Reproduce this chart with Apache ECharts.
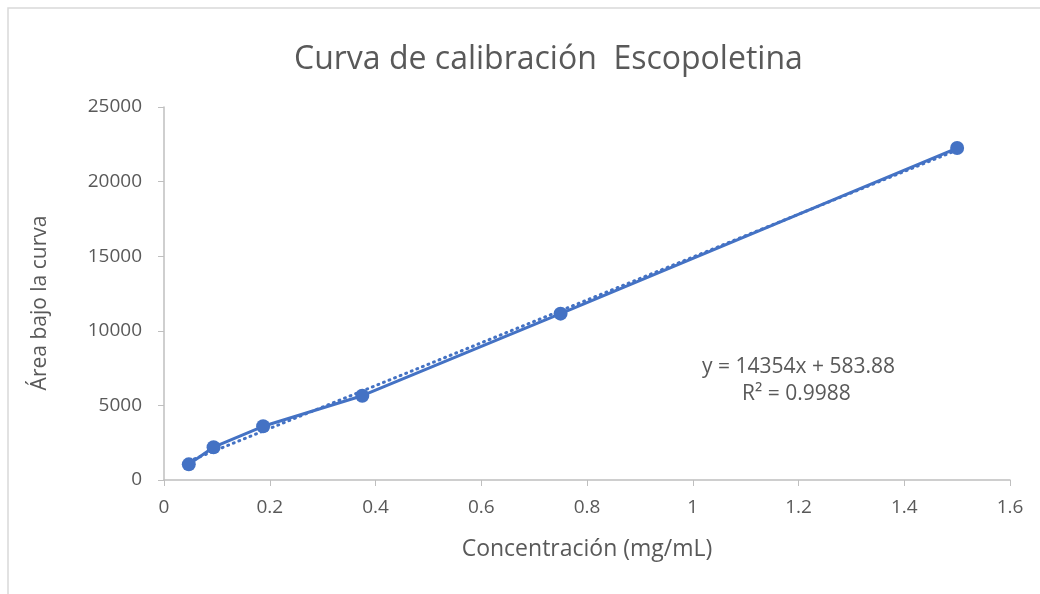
<!DOCTYPE html>
<html>
<head>
<meta charset="utf-8">
<script src="https://cdn.jsdelivr.net/npm/echarts@6/dist/echarts.min.js"></script>
<style>
  html, body { margin: 0; padding: 0; background: #fff; }
  #chart { width: 1040px; height: 594px; }
</style>
</head>
<body>
<div id="chart"></div>
<script>
// Calibration standards: concentration (mg/mL) and peak area
const concentrations = [0.046875, 0.09375, 0.1875, 0.375, 0.75, 1.5];
const areas = [1050, 2200, 3600, 5650, 11150, 22250];

// Linear fit reported for the standards
const slope = 14354;
const intercept = 583.88;
const rSquared = 0.9988;

const xTicks = [0, 0.2, 0.4, 0.6, 0.8, 1, 1.2, 1.4, 1.6];
const yTicks = [0, 5000, 10000, 15000, 20000, 25000];

const blue = '#4472c4';
const textColor = '#595959';
const font = '"Open Sans", "Liberation Sans", sans-serif';

const measured = concentrations.map((c, i) => [c, areas[i]]);
const xMin = Math.min(...concentrations);
const xMax = Math.max(...concentrations);
const trend = [[xMin, slope * xMin + intercept], [xMax, slope * xMax + intercept]];

const chart = echarts.init(document.getElementById('chart'), null, { renderer: 'canvas' });
chart.setOption({
  animation: false,
  backgroundColor: '#fff',
  textStyle: { fontFamily: font },
  title: {
    text: 'Curva de calibración  Escopoletina',
    left: 289,
    top: 39,
    textStyle: { fontFamily: font, fontSize: 32, fontWeight: 'normal', color: textColor }
  },
  grid: { left: 164, right: 30, top: 107, bottom: 114 },
  xAxis: {
    type: 'value',
    min: xTicks[0],
    max: xTicks[xTicks.length - 1],
    interval: 0.2,
    name: 'Concentración (mg/mL)',
    nameLocation: 'middle',
    nameGap: 58,
    nameTextStyle: { fontFamily: font, fontSize: 23, color: textColor },
    axisLine: { lineStyle: { color: '#bfbfbf', width: 1.5 } },
    axisTick: { show: true, length: 6, lineStyle: { color: '#bfbfbf' } },
    axisLabel: {
      fontFamily: font, fontSize: 19, color: textColor, margin: 18,
      formatter: v => String(Math.round(v * 10) / 10)
    },
    splitLine: { show: false }
  },
  yAxis: {
    type: 'value',
    min: yTicks[0],
    max: yTicks[yTicks.length - 1],
    interval: 5000,
    axisLine: { show: true, lineStyle: { color: '#bfbfbf', width: 1.5 } },
    axisTick: { show: true, length: 6, lineStyle: { color: '#bfbfbf' } },
    axisLabel: {
      fontFamily: font, fontSize: 19, color: textColor, margin: 22,
      formatter: v => String(v)
    },
    splitLine: { show: false }
  },
  series: [
    {
      name: 'Lineal',
      type: 'line',
      data: trend,
      symbol: 'none',
      lineStyle: { color: blue, width: 3, type: [1, 5], cap: 'round' },
      z: 2
    },
    {
      name: 'Área',
      type: 'line',
      data: measured,
      symbol: 'circle',
      symbolSize: 14,
      itemStyle: { color: blue },
      lineStyle: { color: blue, width: 3 },
      z: 3
    }
  ],
  graphic: [
    {
      type: 'rect',
      shape: { x: 8, y: 8, width: 1100, height: 700 },
      style: { fill: 'none', stroke: '#d9d9d9', lineWidth: 1.5 },
      silent: true
    },
    {
      // vertical axis title
      type: 'text',
      x: 40, y: 303,
      rotation: Math.PI / 2,
      style: {
        text: 'Área bajo la curva', font: '21px ' + font, fill: textColor,
        align: 'center', verticalAlign: 'middle'
      }
    },
    {
      type: 'text',
      left: 702, top: 357,
      style: { text: 'y = 14354x + 583.88', font: '21px ' + font, fill: textColor }
    },
    {
      type: 'text',
      left: 742, top: 384,
      style: { text: 'R² = ' + rSquared, font: '21px ' + font, fill: textColor }
    }
  ]
});
</script>
</body>
</html>
